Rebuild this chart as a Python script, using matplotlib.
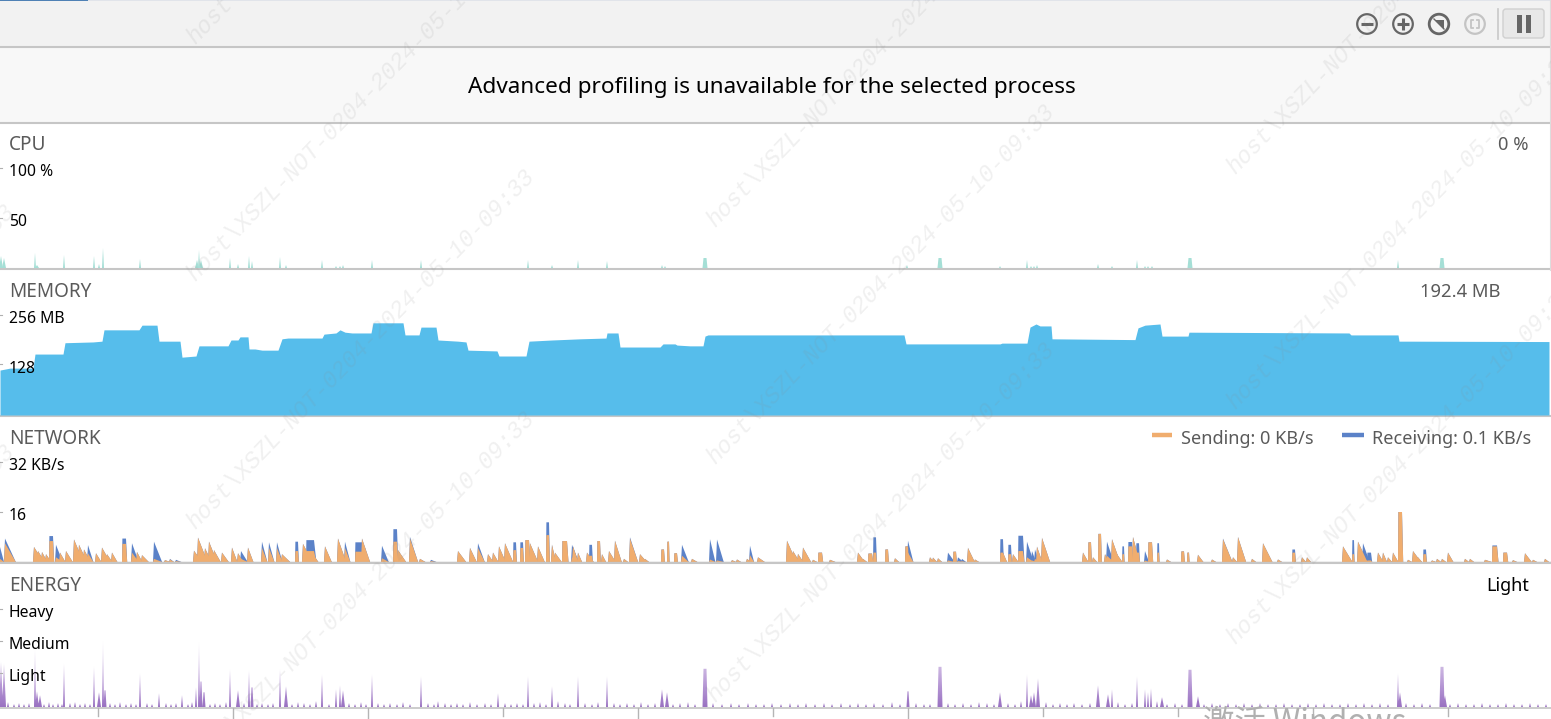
#!/usr/bin/python

import matplotlib
matplotlib.use('Agg')
import matplotlib.pyplot as plt
from matplotlib.colors import LinearSegmentedColormap
from matplotlib.patches import Circle, FancyBboxPatch, PathPatch, Rectangle, Polygon
from matplotlib.path import Path
import numpy as np

plt.rcParams['font.family'] = ['Noto Sans', 'DejaVu Sans']

W, H = 1551, 719

# cpu spikes: time, percent, width
cpu_t = [1, 4, 35, 37, 64, 94, 99, 103, 140, 197, 199, 201, 230, 238, 249, 252, 280, 286, 322, 336, 340, 343,
         372, 421, 528, 552, 578, 607, 662, 665, 705, 907, 940, 1000, 1027, 1031, 1034, 1037, 1098, 1112, 1137,
         1145, 1148, 1152, 1190, 1398, 1442]
cpu_v = [12, 10, 15, 3, 13, 12, 4, 20, 9, 8, 18, 8, 10, 4, 12, 7, 11, 3, 8, 2, 2, 3,
         8, 8, 8, 3, 8, 7, 3, 2, 10, 3, 10, 2, 8, 2, 2, 3, 4, 2, 8,
         2, 2, 2, 10, 8, 10]
cpu_w = [2, 2, 1, 2, 1, 1, 1, 1, 1, 2, 1, 2, 1, 1, 1, 1, 1, 1, 1, 1, 1, 1,
         1, 1, 1, 1, 1, 1, 1, 1, 5, 1, 5, 1, 1, 1, 1, 1, 1, 1, 1,
         1, 1, 1, 5, 1, 5]

# memory steps in MB
mem_t = [0, 10, 33, 35, 63, 65, 93, 102, 104, 139, 142, 157, 159, 180, 182, 196, 199, 228, 231, 238, 240, 248,
         249, 255, 262, 278, 282, 288, 322, 324, 336, 340, 345, 352, 371, 373, 403, 405, 419, 421, 436, 438,
         458, 466, 468, 497, 499, 526, 529, 552, 580, 606, 607, 618, 620, 660, 663, 675, 677, 690, 703, 705,
         708, 904, 906, 1000, 1002, 1027, 1030, 1036, 1040, 1051, 1052, 1135, 1138, 1145, 1160, 1162, 1188,
         1189, 1349, 1351, 1398, 1399, 1410, 1549]
mem_v = [115, 120, 120, 156, 156, 185, 187, 189, 218, 218, 230, 230, 189, 189, 148, 151, 177, 177, 192, 192, 200, 200,
         169, 169, 166, 166, 195, 197, 197, 207, 210, 218, 212, 210, 210, 236, 236, 205, 205, 225, 225, 192,
         189, 187, 166, 164, 151, 151, 189, 192, 195, 197, 210, 210, 174, 174, 182, 182, 179, 177, 177, 202,
         205, 205, 182, 182, 184, 184, 225, 233, 228, 228, 195, 193, 223, 230, 233, 202, 202,
         212, 210, 205, 205, 189, 189, 188]

# network peaks: time, decay width, sending KB/s, receiving KB/s on top, flat top 0/1
net_t = [0, 5, 34, 38, 42, 46, 49, 56, 60, 66, 74, 79, 84, 88, 96, 102, 107, 112, 122, 132, 137, 142, 154, 165, 170,
         176, 194, 198, 205, 209, 214, 222, 232, 238, 241, 248, 262, 269, 277, 282, 295, 303, 306, 313, 325, 338,
         345, 355, 362, 365, 382, 393, 398, 410, 420, 431, 458, 470, 478, 488, 493, 499, 505, 513, 520, 525, 530,
         538, 546, 552, 555, 562, 572, 573, 578, 587, 589, 597, 602, 609, 615, 624, 630, 640, 645, 661, 667, 674,
         682, 692, 710, 717, 732, 737, 747, 750, 758, 787, 793, 798, 803, 813, 818, 830, 858, 863, 868, 873, 885,
         895, 905, 908, 930, 933, 938, 948, 953, 958, 962, 968, 975, 1000, 1003, 1008, 1013, 1018, 1027, 1032,
         1035, 1037, 1042, 1083, 1088, 1093, 1098, 1105, 1107, 1112, 1117, 1122, 1128, 1133, 1136, 1145, 1148,
         1157, 1167, 1181, 1187, 1198, 1212, 1223, 1225, 1233, 1238, 1252, 1263, 1278, 1292, 1302, 1307, 1343,
         1352, 1358, 1363, 1367, 1378, 1383, 1388, 1393, 1398, 1408, 1413, 1418, 1423, 1432, 1437, 1442, 1448,
         1465, 1470, 1485, 1492, 1503, 1513, 1525, 1533, 1545]
net_w = [3, 8, 7, 5, 4, 4, 4, 5, 4, 5, 7, 6, 5, 4, 4, 6, 4, 4, 4, 5, 4, 5, 6, 4, 3,
         4, 6, 7, 5, 6, 5, 5, 4, 4, 5, 4, 4, 4, 4, 6, 3, 7, 8, 4, 5, 6,
         4, 7, 6, 3, 5, 4, 6, 6, 4, 4, 6, 5, 5, 4, 4, 5, 6, 3, 3, 4, 6,
         5, 3, 3, 5, 5, 5, 4, 3, 5, 3, 3, 3, 5, 5, 3, 6, 5, 3, 3, 2, 3,
         5, 4, 4, 5, 3, 3, 3, 3, 5, 7, 5, 4, 6, 3, 4, 4, 5, 3, 4, 3, 3,
         3, 3, 4, 3, 3, 3, 5, 3, 4, 3, 5, 3, 3, 3, 3, 4, 5, 5, 3,
         3, 4, 6, 4, 3, 3, 3, 3, 5, 6, 4, 2, 4, 5, 3, 3, 4,
         2, 3, 3, 2, 4, 3, 7, 5, 3, 6, 3, 7, 3, 3, 3, 3, 7,
         2, 7, 5, 4, 4, 3, 3, 4, 4, 3, 6, 3, 3, 3, 3, 3, 4,
         3, 3, 5, 5, 4, 3, 5, 3, 3]
net_send = [1.0, 6.0, 4.8, 3.5, 3.2, 2.5, 6.7, 1.5, 3.0, 3.5, 7.2, 5.5, 4.0, 2.8, 2.8, 4.6, 2.5, 3.0, 5.8, 3.0, 3.2, 2.2, 1.0, 0.6, 0.8,
            0.3, 3.6, 7.8, 4.4, 6.5, 3.8, 3.0, 4.6, 2.8, 1.0, 4.6, 4.5, 4.5, 4.5, 2.5, 3.5, 5.8, 3.5, 2.5, 5.0, 7.5,
            4.5, 3.3, 7.5, 3.0, 1.2, 6.5, 3.8, 7.5, 1.0, 0.3, 3.5, 4.5, 4.5, 2.5, 3.0, 5.0, 6.0, 3.8, 4.5, 7.0, 6.0,
            5.0, 8.6, 5.5, 3.0, 6.7, 1.5, 5.0, 3.0, 3.0, 2.0, 6.7, 2.5, 3.5, 6.8, 1.0, 7.5, 2.5, 1.0, 4.0, 6.5, 2.8,
            2.0, 1.0, 0.8, 0.5, 0.6, 0.8, 1.0, 2.2, 1.5, 6.8, 3.5, 2.6, 4.6, 0.7, 3.0, 0.7, 3.0, 1.0, 2.7, 3.0, 4.0,
            1.2, 5.0, 3.0, 1.5, 1.4, 1.2, 0.5, 3.3, 0.3, 0.2, 4.5, 0.8, 3.0, 3.0, 2.5, 2.5, 3.5, 1.5, 0.5,
            1.0, 4.9, 7.7, 3.0, 6.3, 1.5, 9.0, 2.5, 2.0, 7.3, 2.5, 2.5, 5.0, 8.0, 3.0, 0.5, 6.3,
            3.0, 0.8, 3.4, 3.0, 2.3, 0.8, 7.3, 1.0, 1.5, 8.0, 1.0, 6.0, 0.8, 3.0, 1.5, 1.5, 5.0,
            2.5, 6.5, 1.0, 0.5, 3.0, 3.0, 1.5, 3.0, 16.0, 0.7, 3.5, 1.5, 2.5, 0.5, 1.0, 1.0, 3.0,
            1.0, 1.0, 0.7, 5.0, 3.0, 0.6, 2.8, 0.7, 1.0]
net_recv = [3.8, 1.5, 0, 0, 0, 0, 1.6, 4.0, 0, 0, 0, 0, 0, 2.6, 0, 0, 0, 0, 1.7, 3.0, 0, 0, 5.5, 0, 0.2,
            0.4, 0, 0, 0, 0, 0, 0, 0, 0, 2.5, 0, 2.0, 1.8, 1.8, 0, 3.0, 0, 3.5, 0, 0, 0,
            2.0, 3.0, 0, 1.5, 4.0, 4.0, 0, 0.5, 0, 0.4, 0, 0, 1.5, 0, 0, 0, 0, 2.5, 1.8, 0, 0,
            0, 4.1, 0, 0, 0, 4.0, 0, 0, 0, 3.5, 0, 0, 0, 0, 0, 0.4, 0, 0, 0, 0, 0,
            3.5, 0, 6.5, 6.7, 0, 0, 0, 3.0, 0, 0, 0, 0, 0, 0, 0, 0, 0, 0, 0, 4.9, 0,
            0, 0, 3.8, 0, 0, 0, 2.5, 0, 1.2, 0.8, 0, 0, 4.3, 0, 3.0, 0, 4.9, 5.0, 3.0,
            3.0, 0, 0, 0, 0, 0, 0, 0, 4.5, 0, 0, 2.5, 1.4, 0, 3.0, 3.0, 0,
            3.0, 0, 0, 0, 0, 0, 0.2, 3.0, 0, 0, 0, 0, 0, 1.0, 0, 0, 0,
            4.5, 0, 5.0, 2.5, 0, 0, 0, 0, 0, 0, 0, 0, 1.5, 0, 0, 0, 0,
            0, 0, 0, 0.3, 0, 0, 0, 0, 0]
net_flat = [49, 122, 295, 306, 355, 393, 513, 520, 525, 546, 562, 589, 597, 661, 667, 674, 818, 868, 873, 885, 905,
            953, 1000, 1008, 1018, 1088, 1098, 1122, 1128, 1136, 1148, 1157, 1181, 1187, 1292, 1352, 1367, 1398,
            1423, 1492, 1503]

# energy spikes, 100 = Heavy
energy_t = [1, 4, 35, 37, 40, 64, 94, 99, 103, 105, 140, 159, 182, 196, 199, 201, 204, 230, 238, 249, 252, 280, 286,
            322, 336, 340, 343, 372, 421, 438, 498, 528, 552, 578, 607, 662, 667, 705, 908, 940, 1000, 1027, 1031,
            1034, 1038, 1098, 1108, 1112, 1137, 1145, 1148, 1151, 1162, 1190, 1198, 1398, 1400, 1442, 1445]
energy_v = [46, 44, 58, 16, 12, 44, 41, 15, 67, 17, 34, 14, 12, 20, 66, 26, 15, 38, 17, 37, 20, 38, 21,
            33, 18, 22, 17, 33, 31, 6, 14, 31, 21, 31, 31, 18, 15, 39, 16, 41, 15, 33, 12,
            15, 29, 22, 13, 18, 31, 18, 15, 19, 10, 38, 11, 34, 15, 41, 12]
energy_w = [2, 2, 1, 2, 2, 1, 1, 2, 1, 3, 1, 1, 1, 1, 1, 3, 3, 1, 2, 1, 3, 1, 2,
            1, 1, 1, 2, 1, 1, 1, 1, 1, 1, 1, 1, 2, 2, 5, 3, 5, 2, 1, 2,
            2, 2, 2, 2, 1, 1, 1, 1, 1, 2, 5, 2, 1, 2, 5, 2]
energy_low_t = [8, 14, 19, 24, 29, 44, 49, 53, 58, 62, 70, 75, 80, 85, 90, 110, 115, 120, 126, 131, 136, 147, 152, 166, 171,
                176, 188, 192, 210, 215, 220, 226, 244, 257, 262, 268, 273, 292, 298, 304, 310, 316, 329, 349, 355, 361,
                366, 378, 384, 390, 397, 403, 410, 428, 434, 445, 451, 457, 463, 470, 477, 485, 491, 505, 511, 517,
                523, 534, 540, 546, 558, 565, 570, 585, 592, 598, 614, 620, 627, 634, 641, 648, 655, 673, 680, 688,
                695, 713, 722, 731, 739, 748, 756, 764, 772, 781, 790, 798, 806, 815, 824, 832, 841, 850, 858, 866,
                874, 883, 892, 900, 916, 924, 930, 948, 955, 963, 971, 979, 987, 994, 1008, 1015, 1021, 1046, 1053,
                1060, 1067, 1074, 1082, 1090, 1118, 1125, 1132, 1157, 1167, 1175, 1182, 1204, 1212, 1220, 1228, 1236,
                1244, 1252, 1260, 1268, 1276, 1284, 1292, 1300, 1308, 1316, 1324, 1332, 1340, 1348, 1356, 1364, 1372,
                1380, 1388, 1406, 1414, 1422, 1430, 1450, 1458, 1466, 1474, 1482, 1490, 1498, 1506, 1514, 1522, 1530, 1538, 1546]
energy_low_v = [5, 3, 4, 3, 4, 3, 5, 3, 4, 3, 4, 5, 3, 4, 3, 4, 3, 5, 3, 4, 3, 4, 3, 4, 3,
                4, 3, 5, 3, 4, 3, 5, 4, 3, 4, 3, 4, 3, 5, 4, 3, 6, 3, 4, 3, 5,
                3, 4, 3, 4, 3, 5, 3, 4, 3, 4, 3, 4, 3, 5, 3, 4, 3, 4, 3, 4,
                3, 4, 5, 3, 6, 4, 3, 4, 3, 5, 4, 3, 4, 3, 5, 3, 4, 3, 4, 5,
                3, 4, 3, 4, 3, 4, 3, 3, 4, 3, 4, 3, 4, 3, 4, 3, 4, 3, 4, 3,
                4, 3, 5, 3, 4, 3, 3, 4, 3, 4, 3, 5, 4, 3, 4, 3, 6, 5, 3,
                4, 3, 4, 3, 4, 5, 3, 4, 6, 3, 4, 3, 3, 4, 3, 4, 3,
                4, 3, 4, 3, 3, 4, 3, 3, 4, 3, 4, 3, 3, 4, 3, 4, 3,
                4, 3, 4, 3, 4, 3, 3, 4, 3, 3, 4, 3, 3, 4, 3, 3, 4, 3, 3]

bottom_ticks = [98, 233, 368, 503, 638, 773, 908, 1043, 1178, 1313, 1448]
bottom_tick_len = [8, 12, 12, 8, 12, 8, 12, 8, 8, 8, 8]

wm_text = 'host\\XSZL-NOT-0204-2024-05-10-09:33'
wm_x = [-325, 195, 715, 1235]
wm_y = [[325, 565, 805], [45, 282, 530, 772], [-10, 228, 465, 703], [-60, 175, 410, 645]]

fig = plt.figure(figsize=(W / 100, H / 100), dpi=100)


def px_axes(left, top, right, bottom, zorder=1):
    ax = fig.add_axes([left / W, 1 - bottom / H, (right - left) / W, (bottom - top) / H], zorder=zorder)
    ax.patch.set_alpha(0)
    ax.axis('off')
    return ax


bg = px_axes(0, 0, W, H, zorder=0)
bg.set_xlim(0, W)
bg.set_ylim(H, 0)

# toolbar and banner
bg.add_patch(Rectangle((0, 0), W, 46, color='#f2f2f2', lw=0))
bg.add_patch(Rectangle((0, 0), W, 1.2, color='#e1e4ea', lw=0))
bg.add_patch(Rectangle((0, 0), 88, 1.4, color='#4f81b5', lw=0))
bg.add_patch(Rectangle((0, 48), W, 74, color='#f8f8f8', lw=0))
for y in [47, 122.5, 269, 416, 563]:
    bg.plot([0, W], [y, y], color='#c6c6c6', lw=1.5, solid_capstyle='butt')
bg.plot([0, W], [707.5, 707.5], color='#c4c4c4', lw=1.2)
bg.plot([1549.5, 1549.5], [0, 270], color='#dddddd', lw=0.8)
for t, l in zip(bottom_ticks, bottom_tick_len):
    bg.plot([t, t], [708, 708 + l], color='#b5b5b5', lw=1)

# toolbar icons
for cx, c in zip([1367, 1403, 1439, 1475], ['#666666', '#666666', '#666666', '#c4c4c4']):
    lw = 1.6 if cx != 1439 else 2.0
    bg.add_patch(Circle((cx, 24), 9.8, fill=False, ec=c, lw=lw))
bg.plot([1361, 1373], [24, 24], color='#666666', lw=2.2, solid_capstyle='butt')
bg.plot([1397, 1409], [24, 24], color='#666666', lw=2.2, solid_capstyle='butt')
bg.plot([1403, 1403], [18, 30], color='#666666', lw=2.2, solid_capstyle='butt')
bg.add_patch(Polygon([[1435, 20], [1444, 20], [1444, 29]], closed=True, color='#666666', lw=0))
bg.plot([1434, 1444], [19, 29], color='#666666', lw=1.0)
bg.plot([1473, 1471, 1471, 1473], [20, 20, 28, 28], color='#c4c4c4', lw=1.3)
bg.plot([1477, 1479, 1479, 1477], [20, 20, 28, 28], color='#c4c4c4', lw=1.3)
bg.plot([1498, 1498], [9, 39], color='#c8c8c8', lw=1.2)
bg.add_patch(FancyBboxPatch((1505, 11), 37, 25, boxstyle='round,pad=2,rounding_size=3', fc='#e8e8e8', ec='#d0d0d0', lw=1))
bg.add_patch(Rectangle((1517, 15), 5, 18, color='#666666', lw=0))
bg.add_patch(Rectangle((1526, 15), 5, 18, color='#666666', lw=0))

bg.text(771.5, 87.5, 'Advanced profiling is unavailable for the selected process', ha='center', va='center',
        fontsize=16.2, color='black')

# cpu
ax_cpu = px_axes(0, 123, W, 268, zorder=2)
ax_cpu.set_xlim(0, W)
ax_cpu.set_ylim(0, 145)
for t, v, w in zip(cpu_t, cpu_v, cpu_w):
    if w > 2:
        ax_cpu.fill([t - w / 2, t - w / 2 + 1, t + w / 2 - 1, t + w / 2], [0, v, v, 0], color='#a5dfd6', lw=0)
    else:
        ax_cpu.fill([t - w, t, t + w], [0, v, 0], color='#a5dfd6', lw=0)

# memory
ax_mem = px_axes(0, 270, W, 415, zorder=2)
ax_mem.set_xlim(0, W)
ax_mem.set_ylim(0, 145 * 2.56)
ax_mem.fill_between(mem_t, mem_v, 0, color='#56bdeb', lw=0)

# network
ax_net = px_axes(0, 417, W, 562, zorder=2)
ax_net.set_xlim(0, W)
ax_net.set_ylim(0, 145 * 0.32)
for t, w, s, r in zip(net_t, net_w, net_send, net_recv):
    if t in net_flat:
        xs = [t, t + 0.4, t + w, t + w * 1.3]
        ax_net.fill(xs, [0, s + r, s + r, 0], color='#5b82c8', lw=0, zorder=2)
        ax_net.fill(xs, [0, s, s, 0], color='#f0ad6e', lw=0, zorder=3)
    else:
        xs = [t - 1, t, t + w * 1.35]
        ax_net.fill(xs, [0, s + r, 0], color='#5b82c8', lw=0, zorder=2)
        ax_net.fill(xs, [0, s, 0], color='#f0ad6e', lw=0, zorder=3)
ax_net.plot([0, W], [0.15, 0.15], color='#b9b9b9', lw=1, zorder=4)

# energy
ax_en = px_axes(0, 564, W, 707, zorder=2)
ax_en.set_xlim(0, W)
ax_en.set_ylim(0, 143 / 0.98)
polys = []
for t, v, w in zip(energy_t + energy_low_t, energy_v + energy_low_v, energy_w + [1] * len(energy_low_t)):
    if w > 2:
        polys.append(Path([[t - w / 2, 0], [t - w / 2 + 1, v], [t + w / 2 - 1, v], [t + w / 2, 0], [t - w / 2, 0]], closed=True))
    else:
        polys.append(Path([[t - w, 0], [t, v], [t + w, 0], [t - w, 0]], closed=True))
spikes = Path.make_compound_path(*polys)
cmap = LinearSegmentedColormap.from_list('en', ['#9a72c2', '#b89ad6', '#d4c2e6', '#ece4f4'])
grad = np.linspace(0, 1, 100).reshape(-1, 1)
im = ax_en.imshow(grad, origin='lower', extent=[0, W, 0, 70], aspect='auto', cmap=cmap, interpolation='bilinear')
im.set_clip_path(PathPatch(spikes, transform=ax_en.transData))
ax_en.set_xlim(0, W)
ax_en.set_ylim(0, 143 / 0.98)

# watermark and texts on top of everything
top = px_axes(0, 0, W, H, zorder=5)
top.set_xlim(0, W)
top.set_ylim(H, 0)
for x, ys in zip(wm_x, wm_y):
    for y in ys:
        top.text(x, y, wm_text, rotation=46, rotation_mode='anchor', ha='left', va='baseline',
                 family='Liberation Mono', style='italic', fontsize=16.8, color='#8c8c8c', alpha=0.13, clip_on=True)
top.text(1203, 732, '激活 Windows', ha='left', va='baseline', fontsize=22.6, color='#b0b0b0',
         family=['Noto Sans CJK SC', 'DejaVu Sans'], clip_on=True)

# titles and level labels
for label, y in [('CPU', 145), ('MEMORY', 292), ('NETWORK', 439), ('ENERGY', 586)]:
    top.text(9, y, label, ha='left', va='center', fontsize=13.7, color='#5a5a5a')
for label, y in [('100 %', 172), ('50', 222), ('256 MB', 319), ('128', 369), ('32 KB/s', 466), ('16', 516),
                 ('Heavy', 613), ('Medium', 645), ('Light', 677)]:
    top.text(9, y, label, ha='left', va='center', fontsize=11.3, color='black')
for y in [168, 218, 315, 364, 462, 512, 609, 641, 673]:
    top.plot([0, 2], [y, y], color='#b0b0b0', lw=0.8)
top.text(1528, 145, '0 %', ha='right', va='center', fontsize=13.2, color='#5a5a5a')
top.text(1500, 292, '192.4 MB', ha='right', va='center', fontsize=13.3, color='#5a5a5a')
top.text(1529, 586, 'Light', ha='right', va='center', fontsize=13, color='black')

# legend
top.plot([1152, 1172], [435, 435], color='#f0ad6e', lw=3.2, solid_capstyle='butt')
top.text(1181, 439, 'Sending: 0 KB/s', ha='left', va='center', fontsize=13, color='#5a5a5a')
top.plot([1342, 1364], [435, 435], color='#5b82c8', lw=3.2, solid_capstyle='butt')
top.text(1372, 439, 'Receiving: 0.1 KB/s', ha='left', va='center', fontsize=13, color='#5a5a5a')

plt.savefig('out.png', dpi=100)
